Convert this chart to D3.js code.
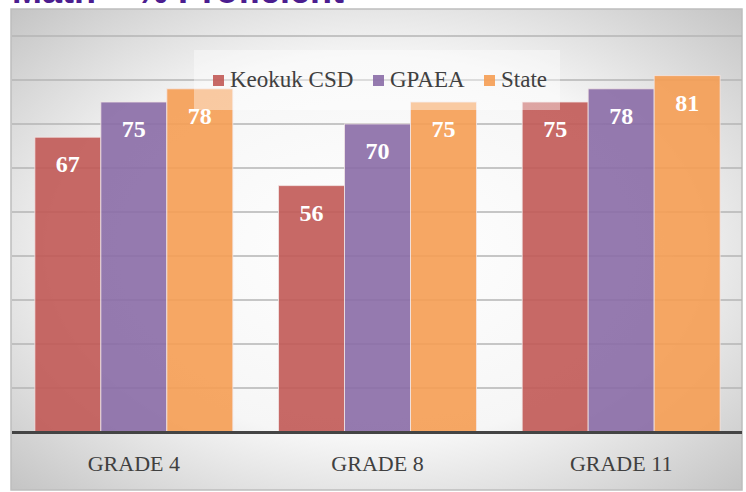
<!DOCTYPE html>
<html>
<head>
<meta charset="utf-8">
<script src="https://cdn.jsdelivr.net/npm/d3@7"></script>
<style>
  body { margin: 0; background: #fff; }
  svg { display: block; }
</style>
</head>
<body>
<div class="graph_wrapper"></div>
<script>
var grades = ['GRADE 4', 'GRADE 8', 'GRADE 11'];
var seriesNames = ['Keokuk CSD', 'GPAEA', 'State'];
var keokuk = [67, 56, 75];
var gpaea = [75, 70, 78];
var state = [78, 75, 81];
var gridTicks = [0, 10, 20, 30, 40, 50, 60, 70, 80, 90];

var width = 746;
var height = 492;
var colors = ['#c15955', '#896ca6', '#f59d53'];

var svg = d3.select('.graph_wrapper').append('svg')
  .attr('width', width).attr('height', height);

var defs = svg.append('defs');
var grad = defs.append('radialGradient').attr('id', 'bg')
  .attr('cx', '50%').attr('cy', '50%').attr('r', '72%');
grad.append('stop').attr('offset', '0%').attr('stop-color', '#ffffff');
grad.append('stop').attr('offset', '55%').attr('stop-color', '#f6f6f6');
grad.append('stop').attr('offset', '100%').attr('stop-color', '#c2c2c2');

// title, mostly cut off at the top
svg.append('text')
  .attr('x', 12).attr('y', 3)
  .attr('font-family', 'Liberation Sans, Arial, sans-serif')
  .attr('font-weight', 'bold')
  .attr('font-size', 36)
  .attr('fill', '#4b1d8f')
  .text('Math – % Proficient');

var plotLeft = 12, plotRight = 742, plotTop = 9, plotBottom = 490;

svg.append('rect')
  .attr('x', plotLeft - 1).attr('y', plotTop)
  .attr('width', plotRight - plotLeft + 1).attr('height', plotBottom - plotTop)
  .attr('fill', 'url(#bg)')
  .attr('stroke', '#bdbdbd').attr('stroke-width', 1.5);

var y = d3.scaleLinear().domain([0, 90]).range([432, 36]);

var x0 = d3.scaleBand().domain(grades).range([plotLeft, plotRight + 1])
  .paddingInner(0.1875).paddingOuter(0.09375);
var x1 = d3.scaleBand().domain(seriesNames).range([0, x0.bandwidth()]);

// gridlines
svg.append('g').selectAll('line').data(gridTicks.slice(1)).enter().append('line')
  .attr('x1', plotLeft).attr('x2', plotRight)
  .attr('y1', function (d) { return y(d); })
  .attr('y2', function (d) { return y(d); })
  .attr('stroke', '#b4b4b4').attr('stroke-width', 1.5);

var series = [keokuk, gpaea, state];
var rows = [];
grades.forEach(function (g, i) {
  seriesNames.forEach(function (s, j) {
    rows.push({ grade: g, name: s, value: series[j][i], idx: j });
  });
});

var bars = svg.append('g');
bars.selectAll('rect').data(rows).enter().append('rect')
  .attr('x', function (d) { return x0(d.grade) + x1(d.name); })
  .attr('y', function (d) { return y(d.value); })
  .attr('width', x1.bandwidth())
  .attr('height', function (d) { return y(0) - y(d.value); })
  .attr('fill', function (d) { return colors[d.idx]; })
  .attr('fill-opacity', 0.9)
  .attr('stroke', '#f3e6e6').attr('stroke-opacity', 0.8).attr('stroke-width', 1);

bars.selectAll('text').data(rows).enter().append('text')
  .attr('x', function (d) { return x0(d.grade) + x1(d.name) + x1.bandwidth() / 2; })
  .attr('y', function (d) { return y(d.value) + 35; })
  .attr('text-anchor', 'middle')
  .attr('font-family', 'Liberation Serif, DejaVu Serif, serif')
  .attr('font-weight', 'bold')
  .attr('font-size', 24)
  .attr('fill', '#ffffff')
  .text(function (d) { return d.value; });

// axis line
svg.append('line')
  .attr('x1', plotLeft).attr('x2', plotRight)
  .attr('y1', y(0) + 0.5).attr('y2', y(0) + 0.5)
  .attr('stroke', '#444').attr('stroke-width', 3);

svg.append('g').selectAll('text').data(grades).enter().append('text')
  .attr('x', function (d) { return x0(d) + x0.bandwidth() / 2; })
  .attr('y', 471)
  .attr('text-anchor', 'middle')
  .attr('font-family', 'Liberation Serif, DejaVu Serif, serif')
  .attr('font-size', 22)
  .attr('fill', '#404040')
  .text(function (d) { return d; });

// legend with translucent white box
svg.append('rect')
  .attr('x', 194).attr('y', 50).attr('width', 366).attr('height', 60)
  .attr('fill', '#ffffff').attr('fill-opacity', 0.4);

var legendX = [213, 373, 484];
var legend = svg.selectAll('.legend').data(seriesNames).enter().append('g')
  .attr('class', 'legend')
  .attr('transform', function (d, i) { return 'translate(' + legendX[i] + ',75)'; });

legend.append('rect').attr('width', 11).attr('height', 11)
  .attr('fill', function (d, i) { return colors[i]; })
  .attr('fill-opacity', 0.9);

legend.append('text')
  .attr('x', 17).attr('y', 12)
  .attr('font-family', 'Liberation Serif, DejaVu Serif, serif')
  .attr('font-size', 23)
  .attr('fill', '#404040')
  .text(function (d) { return d; });
</script>
</body>
</html>
